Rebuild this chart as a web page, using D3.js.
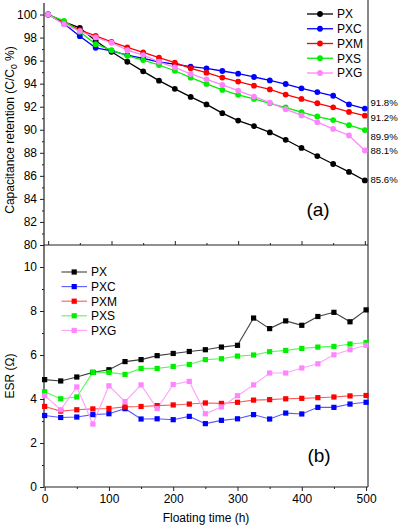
<!DOCTYPE html>
<html><head><meta charset="utf-8">
<script src="https://cdn.jsdelivr.net/npm/d3@7"></script>
<style>
html,body{margin:0;padding:0;background:#fff;}
text{font-family:Arial,"Liberation Sans",sans-serif;fill:#000;}
</style></head>
<body><svg id="c" width="400" height="529"></svg>
<script>
const hours = [0,25,50,75,100,125,150,175,200,225,250,275,300,325,350,375,400,425,450,475,500];
const seriesNames = ["PX","PXC","PXM","PXS","PXG"];
const colors = ["#000000","#0000ff","#ff0000","#00ee00","#ff85ff"];
const bottomLineColors = ["#404040","#5a5aff","#ff5a5a","#50ff50","#ffa0ff"];
// (a) capacitance retention, %
const retPX  = [100,99.36,98.84,97.72,96.77,95.9,95.07,94.26,93.55,92.85,92.2,91.44,90.8,90.32,89.77,89.13,88.42,87.72,87.03,86.34,85.6];
const retPXC = [100,99.2,98.12,97.11,96.85,96.48,96.2,95.88,95.7,95.47,95.33,95.1,94.87,94.58,94.28,93.97,93.6,93.27,92.95,92.2,91.84];
const retPXM = [100,99.36,98.65,98.15,97.63,97.14,96.71,96.25,95.82,95.33,94.95,94.53,94.18,93.83,93.5,93.05,92.68,92.3,91.95,91.55,91.22];
const retPXS = [100,99.45,98.5,97.43,96.91,96.42,96.05,95.62,95.12,94.52,93.98,93.46,93.03,92.68,92.3,91.93,91.53,91.15,90.84,90.4,89.97];
const retPXG = [100,99.16,98.56,98.01,97.55,96.91,96.48,95.9,95.42,94.84,94.38,93.89,93.4,92.88,92.35,91.79,91.24,90.66,90.07,89.5,88.2];
const endLabels = ["85.6%","91.8%","91.2%","89.9%","88.1%"];
// (b) ESR, ohm
const esrPX  = [4.88,4.82,5.0,5.21,5.33,5.7,5.79,5.97,6.07,6.16,6.24,6.36,6.44,7.68,7.2,7.55,7.35,7.75,7.94,7.51,8.05];
const esrPXC = [3.25,3.16,3.18,3.29,3.33,3.56,3.09,3.1,3.06,3.21,2.88,3.03,3.1,3.29,3.09,3.36,3.32,3.62,3.62,3.77,3.85];
const esrPXM = [3.66,3.45,3.51,3.55,3.57,3.64,3.66,3.7,3.73,3.77,3.82,3.8,3.85,3.95,3.97,4.01,4.03,4.06,4.09,4.14,4.16];
const esrPXS = [4.33,4.01,4.09,5.21,5.21,5.12,5.39,5.39,5.48,5.57,5.79,5.83,5.95,6.0,6.15,6.21,6.3,6.36,6.39,6.5,6.57];
const esrPXG = [4.15,3.51,4.55,2.86,4.6,3.88,4.64,3.57,4.66,4.8,3.33,3.64,4.15,4.64,5.18,5.18,5.41,5.6,6.01,6.24,6.44];
const retTicks = [80,82,84,86,88,90,92,94,96,98,100];
const esrTicks = [0,2,4,6,8,10];
const timeTicks = [0,100,200,300,400,500];

const retSeries = [retPX,retPXC,retPXM,retPXS,retPXG];
const esrSeries = [esrPX,esrPXC,esrPXM,esrPXS,esrPXG];

const svg = d3.select("#c");
const L = 44, R = 368;
const axisColor = "#222";

// scales
const xTop = d3.scaleLinear().domain([-5,505]).range([L+1,R]);
const yTop = d3.scaleLinear().domain([80,101]).range([245,3]);
const xBot = d3.scaleLinear().domain([-1,503]).range([L,R]);
const yBot = d3.scaleLinear().domain([0,10.9]).range([487,247.2]);

function styleAxis(g){
  g.select(".domain").remove();
  g.selectAll(".tick line").attr("stroke",axisColor).attr("stroke-width",1);
  g.selectAll(".tick text").attr("font-size","12px").attr("fill","#000")
   .style("font-family",'Arial,"Liberation Sans",sans-serif');
}
const odd = (lo,hi,step)=>d3.range(lo,hi+0.001,step);

// ---- top panel axes
svg.append("g").attr("transform",`translate(${L},0)`)
  .call(d3.axisLeft(yTop).tickValues(retTicks).tickSize(4).tickPadding(3)).call(styleAxis);
svg.append("g").attr("transform",`translate(${L},0)`)
  .call(d3.axisLeft(yTop).tickValues(odd(81,99,2)).tickSize(2).tickFormat("")).call(styleAxis);
svg.append("g").attr("transform",`translate(0,245)`)
  .call(d3.axisTop(xTop).tickValues(timeTicks).tickSize(4).tickFormat("")).call(styleAxis);
svg.append("g").attr("transform",`translate(0,245)`)
  .call(d3.axisTop(xTop).tickValues(odd(50,450,100)).tickSize(2).tickFormat("")).call(styleAxis);

// ---- bottom panel axes
svg.append("g").attr("transform",`translate(${L},0)`)
  .call(d3.axisLeft(yBot).tickValues(esrTicks).tickSize(4).tickPadding(3)).call(styleAxis);
svg.append("g").attr("transform",`translate(${L},0)`)
  .call(d3.axisLeft(yBot).tickValues(odd(1,9,2)).tickSize(2).tickFormat("")).call(styleAxis);
svg.append("g").attr("transform",`translate(0,487)`)
  .call(d3.axisBottom(xBot).tickValues(timeTicks).tickSize(4).tickPadding(3)).call(styleAxis);
svg.append("g").attr("transform",`translate(0,487)`)
  .call(d3.axisBottom(xBot).tickValues(odd(50,450,100)).tickSize(2).tickFormat("")).call(styleAxis);

// frame lines
svg.append("line").attr("x1",L).attr("x2",L).attr("y1",3).attr("y2",487).attr("stroke",axisColor).attr("stroke-width",1.2);
svg.append("line").attr("x1",R).attr("x2",R).attr("y1",0).attr("y2",487).attr("stroke","#888").attr("stroke-width",2);
svg.append("line").attr("x1",L).attr("x2",R).attr("y1",245).attr("y2",245).attr("stroke",axisColor).attr("stroke-width",1.2);
svg.append("line").attr("x1",L).attr("x2",R).attr("y1",487).attr("y2",487).attr("stroke",axisColor).attr("stroke-width",1.2);

// ---- top panel data
const lineTop = d3.line().x((d,i)=>xTop(hours[i])).y(d=>yTop(d));
retSeries.forEach((s,k)=>{
  svg.append("path").datum(s).attr("d",lineTop).attr("fill","none")
    .attr("stroke",colors[k]).attr("stroke-width",1.3);
});
retSeries.forEach((s,k)=>{
  svg.append("g").selectAll("circle").data(s).join("circle")
    .attr("cx",(d,i)=>xTop(hours[i])).attr("cy",d=>yTop(d)).attr("r",2.9).attr("fill",colors[k]);
});
// end labels (nudged apart so they do not collide)
const labelNudge = [-1,-5.5,1.5,6.5,0];
retSeries.forEach((s,k)=>{
  svg.append("text").attr("x",R+2.5).attr("y",yTop(s[s.length-1])+labelNudge[k])
    .attr("dy","0.35em").attr("font-size","9.6px").text(endLabels[k]);
});
// top legend
seriesNames.forEach((n,k)=>{
  const y = 14 + 14.75*k;
  svg.append("line").attr("x1",307).attr("x2",333).attr("y1",y).attr("y2",y).attr("stroke",colors[k]).attr("stroke-width",1.3);
  svg.append("circle").attr("cx",320).attr("cy",y).attr("r",2.9).attr("fill",colors[k]);
  svg.append("text").attr("x",337).attr("y",y).attr("dy","0.36em").attr("font-size","12px").text(n);
});
svg.append("text").attr("x",318).attr("y",209).attr("text-anchor","middle").attr("dy","0.35em").attr("font-size","19px").text("(a)");

// ---- bottom panel data
const lineBot = d3.line().x((d,i)=>xBot(hours[i])).y(d=>yBot(d));
esrSeries.forEach((s,k)=>{
  svg.append("path").datum(s).attr("d",lineBot).attr("fill","none")
    .attr("stroke",bottomLineColors[k]).attr("stroke-width",1.1);
});
const sq = 5.2;
esrSeries.forEach((s,k)=>{
  svg.append("g").selectAll("rect").data(s).join("rect")
    .attr("x",(d,i)=>xBot(hours[i])-sq/2).attr("y",d=>yBot(d)-sq/2)
    .attr("width",sq).attr("height",sq).attr("fill",colors[k]);
});
seriesNames.forEach((n,k)=>{
  const y = 272 + 14.6*k;
  svg.append("line").attr("x1",61.5).attr("x2",87).attr("y1",y).attr("y2",y).attr("stroke",bottomLineColors[k]).attr("stroke-width",1.1);
  svg.append("rect").attr("x",74.2-sq/2).attr("y",y-sq/2).attr("width",sq).attr("height",sq).attr("fill",colors[k]);
  svg.append("text").attr("x",91).attr("y",y).attr("dy","0.36em").attr("font-size","12px").text(n);
});
svg.append("text").attr("x",319).attr("y",455).attr("text-anchor","middle").attr("dy","0.35em").attr("font-size","19px").text("(b)");

// axis titles
const t1 = svg.append("text").attr("transform","translate(10,130) rotate(-90)")
  .attr("text-anchor","middle").attr("dy","0.35em").attr("font-size","12px");
t1.append("tspan").text("Capacitance retention (C/C");
t1.append("tspan").attr("font-size","8.5px").attr("dy","3").text("0");
t1.append("tspan").attr("dy","-3").text(" %)");
svg.append("text").attr("transform","translate(10,376) rotate(-90)")
  .attr("text-anchor","middle").attr("dy","0.35em").attr("font-size","12px").text("ESR (Ω)");
svg.append("text").attr("x",206).attr("y",518).attr("text-anchor","middle").attr("dy","0.35em").attr("font-size","12px").text("Floating time (h)");
</script></body></html>
